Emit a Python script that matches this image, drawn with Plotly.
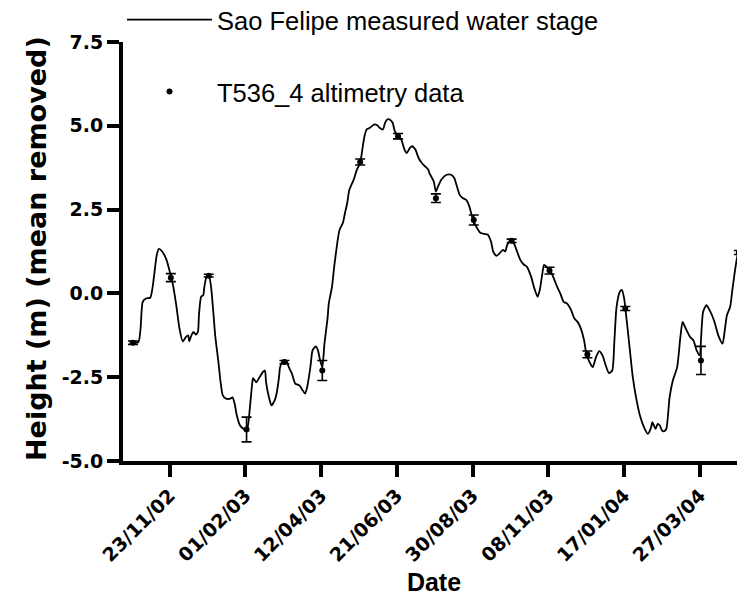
import pandas as pd
import plotly.graph_objects as go

# ---------------- data ----------------
anchor_date = "2002-11-23"

# Sao Felipe measured water stage (days relative to anchor, height in m)
stage_day = [-37, -29, -27, -25, -22, -18, -16, -14, -12, -10, -7, -3, 0, 3, 6, 9, 12, 15,
             17, 18, 20, 22, 24, 26, 27, 29, 31, 32, 34, 36, 38, 40, 42, 45, 47, 49, 52, 56,
             58, 60, 62, 65, 68, 70, 72, 74, 76, 77, 80, 83, 86, 88, 89, 92, 94, 97, 99, 101,
             102, 105, 108, 110, 113, 116, 120, 123, 125, 127, 130, 132, 135, 137, 139, 141,
             143, 146, 147, 150, 152, 154, 155, 157, 160, 162, 164, 166, 170, 173, 176, 178,
             180, 182, 185, 189, 192, 194, 197, 199, 201, 203, 206, 208, 211, 214, 217, 219,
             222, 224, 227, 230, 233, 236, 239, 240, 244, 246, 248, 251, 256, 260, 263, 265,
             268, 271, 274, 277, 279, 281, 284, 287, 291, 294, 297, 299, 302, 305, 308, 310,
             312, 315, 318, 321, 324, 327, 330, 334, 337, 340, 342, 344, 346, 348, 352, 355,
             358, 361, 364, 367, 371, 374, 377, 380, 383, 385, 388, 391, 394, 397, 400, 403,
             406, 409, 411, 413, 416, 418, 420, 422, 425, 428, 431, 435, 439, 442, 445, 446,
             449, 451, 453, 455, 457, 459, 462, 465, 469, 472, 474, 477, 481, 484, 487, 490,
             491, 493, 496, 499, 503, 507, 511, 513, 515, 518, 520, 523, 525, 527]
stage_height = [-1.47, -1.45, -1.05, -0.25, -0.15, -0.13, 0.15, 0.65, 1.15, 1.33, 1.25, 1.00,
                0.65, 0.25, -0.35, -1.05, -1.43, -1.30, -1.25, -1.43, -1.25, -1.15, -1.23,
                -1.15, -0.65, -0.10, -0.05, 0.20, 0.50, 0.55, 0.25, -0.45, -1.25, -2.05, -2.65,
                -3.04, -3.14, -3.14, -3.10, -3.29, -3.64, -3.94, -4.04, -4.09, -3.99, -3.44,
                -2.75, -2.53, -2.65, -2.50, -2.35, -2.30, -2.65, -3.14, -3.34, -3.19, -2.95,
                -2.50, -2.20, -2.00, -2.02, -2.20, -2.40, -2.69, -2.75, -2.90, -2.99, -2.80,
                -2.20, -1.70, -1.58, -1.70, -2.00, -2.20, -1.50, -0.70, -0.30, 0.20, 0.80,
                1.30, 1.54, 1.90, 2.10, 2.40, 2.69, 3.09, 3.39, 3.69, 3.89, 4.29, 4.69, 4.89,
                4.94, 5.04, 5.01, 4.94, 4.89, 5.09, 5.19, 5.19, 5.09, 4.84, 4.69, 4.59, 4.29,
                4.19, 4.34, 4.39, 4.29, 4.04, 3.89, 3.79, 3.69, 3.59, 3.34, 3.04, 3.19, 3.39,
                3.54, 3.54, 3.44, 3.24, 2.94, 2.84, 2.79, 2.59, 2.34, 2.14, 1.95, 1.81, 1.77,
                1.75, 1.54, 1.25, 1.12, 1.20, 1.30, 1.25, 1.45, 1.57, 1.50, 1.25, 1.00, 0.87,
                0.80, 0.50, 0.15, -0.10, 0.10, 0.50, 0.85, 0.80, 0.65, 0.45, 0.20, 0.00,
                -0.25, -0.30, -0.50, -0.75, -0.85, -1.05, -1.40, -1.80, -2.05, -2.20, -1.90,
                -1.72, -1.85, -2.15, -2.38, -2.30, -1.40, -0.40, 0.05, 0.10, -0.15, -0.70,
                -1.60, -2.50, -3.10, -3.69, -4.04, -4.19, -3.99, -3.84, -4.04, -3.89, -3.94,
                -4.09, -4.11, -4.04, -3.10, -2.60, -2.20, -1.30, -0.85, -1.05, -1.30, -1.40,
                -1.70, -1.85, -1.40, -0.55, -0.35, -0.50, -0.80, -1.25, -1.50, -1.10, -0.65,
                -0.40, 0.10, 0.80, 1.15, 1.22]

# T536_4 altimetry data (days relative to anchor, height, error)
alt_day = [-34, 1, 36, 71, 106, 141, 176, 211, 246, 281, 316, 351, 386, 421, 491, 526]
alt_height = [-1.47, 0.47, 0.53, -4.06, -2.05, -2.30, 3.92, 4.69, 2.84, 2.19, 1.57, 0.68,
              -1.82, -0.45, -2.00, 1.22]
alt_error = [0.05, 0.12, 0.04, 0.37, 0.05, 0.30, 0.09, 0.08, 0.13, 0.15, 0.05, 0.10, 0.10,
             0.06, 0.42, 0.06]

x_tick_dates = ["2002-11-23", "2003-02-01", "2003-04-12", "2003-06-21", "2003-08-30",
                "2003-11-08", "2004-01-17", "2004-03-27"]
x_tick_text = ["23/11/02", "01/02/03", "12/04/03", "21/06/03", "30/08/03", "08/11/03",
               "17/01/04", "27/03/04"]
y_tick_vals = [-5.0, -2.5, 0.0, 2.5, 5.0, 7.5]
y_tick_text = ["-5.0", "-2.5", "0.0", "2.5", "5.0", "7.5"]

x_title = "Date"
y_title = "Height (m) (mean removed)"

# ---------------- figure ----------------
base = pd.Timestamp(anchor_date)
stage_dates = base + pd.to_timedelta(stage_day, unit="D")
alt_dates = base + pd.to_timedelta(alt_day, unit="D")

# page body has an 8px margin; figure is sized so it fills the window exactly
W, H = 737, 600
ML, MT, MB = 115, 34, 147
plot_w, plot_h = W - ML, H - MT - MB

fig = go.Figure()
fig.add_trace(go.Scatter(
    x=stage_dates, y=stage_height, mode="lines",
    name="Sao Felipe measured water stage",
    line=dict(color="black", width=1.8, shape="spline", smoothing=0.6),
    legend="legend",
))
fig.add_trace(go.Scatter(
    x=alt_dates, y=alt_height, mode="markers",
    name="T536_4 altimetry data",
    marker=dict(color="black", size=6),
    error_y=dict(type="data", array=alt_error, visible=True, color="black",
                 thickness=1.6, width=5),
    legend="legend2",
))

tick_font = dict(family="DejaVu Sans", size=19, color="black", weight="bold")
legend_font = dict(family="Liberation Sans", size=25.5, color="black")

fig.update_layout(
    width=W, height=H,
    margin=dict(l=ML, r=0, t=MT, b=MB, autoexpand=False),
    paper_bgcolor="white", plot_bgcolor="white",
    showlegend=True,
    legend=dict(x=114 / W, y=1 - 12 / H, xref="container", yref="container",
                xanchor="left", yanchor="middle", itemwidth=85,
                bgcolor="rgba(0,0,0,0)", borderwidth=0, font=legend_font),
    legend2=dict(x=114 / W, y=1 - 84 / H, xref="container", yref="container",
                 xanchor="left", yanchor="middle", itemwidth=85,
                 bgcolor="rgba(0,0,0,0)", borderwidth=0, font=legend_font),
    xaxis=dict(
        range=["2002-10-10 19:00", "2004-05-07 17:00"],
        tickmode="array", tickvals=x_tick_dates, ticktext=x_tick_text,
        tickangle=-45, tickfont=tick_font,
        ticks="outside", ticklen=12, tickwidth=3.5, tickcolor="black",
        showline=True, linecolor="black", linewidth=4,
        showgrid=False, zeroline=False,
        title=dict(text=x_title, standoff=10,
                   font=dict(family="Liberation Sans", size=25, color="black",
                             weight="bold")),
    ),
    yaxis=dict(
        range=[-5, 7.5],
        tickmode="array", tickvals=y_tick_vals, ticktext=y_tick_text,
        tickfont=tick_font,
        ticks="outside", ticklen=12, tickwidth=3.5, tickcolor="black",
        showline=True, linecolor="black", linewidth=4,
        showgrid=False, zeroline=False,
    ),
    annotations=[dict(
        text=y_title, textangle=-90, showarrow=False,
        xref="paper", yref="paper",
        x=(28 - ML) / plot_w, y=(H - MB - 241) / plot_h,
        xanchor="center", yanchor="middle",
        font=dict(family="DejaVu Sans", size=27, color="black", weight="bold"),
    )],
)

fig.write_html("out.html")
